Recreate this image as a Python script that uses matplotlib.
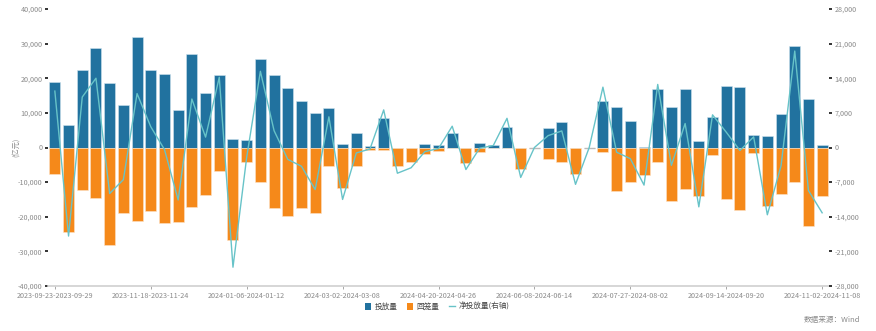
import matplotlib
matplotlib.use("Agg")
import matplotlib.pyplot as plt
from matplotlib.ticker import FuncFormatter, FixedLocator
from matplotlib.patches import Patch
from matplotlib.lines import Line2D

plt.rcParams['font.family'] = ['Noto Sans CJK SC', 'DejaVu Sans']

weeks = [
    "2023-09-23-2023-09-29", "2023-10-07-2023-10-13", "2023-10-14-2023-10-20", "2023-10-21-2023-10-27",
    "2023-10-28-2023-11-03", "2023-11-04-2023-11-10", "2023-11-11-2023-11-17", "2023-11-18-2023-11-24",
    "2023-11-25-2023-12-01", "2023-12-02-2023-12-08", "2023-12-09-2023-12-15", "2023-12-16-2023-12-22",
    "2023-12-23-2023-12-29", "2023-12-30-2024-01-05", "2024-01-06-2024-01-12", "2024-01-13-2024-01-19",
    "2024-01-20-2024-01-26", "2024-01-27-2024-02-02", "2024-02-03-2024-02-09", "2024-02-17-2024-02-23",
    "2024-02-24-2024-03-01", "2024-03-02-2024-03-08", "2024-03-09-2024-03-15", "2024-03-16-2024-03-22",
    "2024-03-23-2024-03-29", "2024-03-30-2024-04-05", "2024-04-06-2024-04-12", "2024-04-13-2024-04-19",
    "2024-04-20-2024-04-26", "2024-04-27-2024-05-03", "2024-05-04-2024-05-10", "2024-05-11-2024-05-17",
    "2024-05-18-2024-05-24", "2024-05-25-2024-05-31", "2024-06-01-2024-06-07", "2024-06-08-2024-06-14",
    "2024-06-15-2024-06-21", "2024-06-22-2024-06-28", "2024-06-29-2024-07-05", "2024-07-06-2024-07-12",
    "2024-07-13-2024-07-19", "2024-07-20-2024-07-26", "2024-07-27-2024-08-02", "2024-08-03-2024-08-09",
    "2024-08-10-2024-08-16", "2024-08-17-2024-08-23", "2024-08-24-2024-08-30", "2024-08-31-2024-09-06",
    "2024-09-07-2024-09-13", "2024-09-14-2024-09-20", "2024-09-21-2024-09-27", "2024-09-28-2024-10-04",
    "2024-10-05-2024-10-11", "2024-10-12-2024-10-18", "2024-10-19-2024-10-25", "2024-10-26-2024-11-01",
    "2024-11-02-2024-11-08",
]

injection = [
    19000, 6450, 22300, 28600, 18750, 12400, 31900, 22300, 21150, 10700,
    27100, 15700, 21000, 2400, 2200, 25500, 20800, 17300, 13500, 10100,
    11500, 1150, 4150, 300, 8400, 0, 0, 1050, 700, 4300,
    0, 1250, 650, 6000, 0, 0, 5700, 7400, 0, 0,
    13400, 11600, 7600, 200, 17000, 11800, 16800, 1900, 8750, 17800,
    17400, 3750, 3300, 9800, 29400, 13900, 700,
]

withdrawal = [
    -7600, -24500, -12200, -14600, -28300, -18900, -21100, -18200, -21700, -21400,
    -17300, -13600, -6800, -26600, -4200, -10100, -17500, -19700, -17400, -18800,
    -5300, -11800, -5300, -600, -800, -5300, -4100, -1800, -900, -100,
    -4500, -1400, -250, -100, -6100, 0, -3400, -4100, -7600, 0,
    -1200, -12700, -9900, -7900, -4300, -15500, -12000, -14100, -2100, -14800,
    -18100, -1600, -17000, -13500, -9900, -22600, -14000,
]

net = [
    11400, -17900, 10200, 14000, -9300, -6500, 10900, 4200, -400, -10600,
    9800, 2100, 14200, -24200, -2000, 15400, 3400, -2400, -3800, -8500,
    6200, -10500, -1100, -300, 7600, -5200, -4100, -850, -200, 4300,
    -4450, -150, 400, 5900, -6050, 0, 2400, 3350, -7450, 0,
    12200, -950, -2250, -7600, 12750, -3600, 4850, -12000, 6600, 3100,
    -600, 2150, -13600, -3700, 19500, -8700, -13200,
]

left_ticks = [-40000, -30000, -20000, -10000, 0, 10000, 20000, 30000, 40000]
right_ticks = [-28000, -21000, -14000, -7000, 0, 7000, 14000, 21000, 28000]

BLUE = "#21729F"
ORANGE = "#F5891A"
TEAL = "#67C3C8"
GRAY_TXT = "#8a8a8a"

W, H = 876, 331
fig = plt.figure(figsize=(W / 100, H / 100), dpi=100)
ax = fig.add_axes([48 / W, 1 - 286 / H, (829 - 48) / W, (286 - 9) / H])
ax2 = ax.twinx()

x = list(range(len(weeks)))
ax.bar(x, injection, width=0.8, color=BLUE, edgecolor="#cfe3ee", linewidth=0.4, zorder=3)
ax.bar(x, withdrawal, width=0.8, color=ORANGE, edgecolor="#fde3c8", linewidth=0.4, zorder=3)
for i in x:
    if injection[i] == 0 and withdrawal[i] == 0:
        ax.hlines(0, i - 0.4, i + 0.4, color="#bbbbbb", linewidth=1.0, zorder=3)
ax2.plot(x, net, color=TEAL, linewidth=1.0, zorder=4)

ax.set_xlim(-0.5, len(weeks) - 0.5)
ax.set_ylim(-40000, 40000)
ax2.set_ylim(-28000, 28000)
ax.yaxis.set_major_locator(FixedLocator(left_ticks))
ax2.yaxis.set_major_locator(FixedLocator(right_ticks))
fmt = FuncFormatter(lambda v, p: f"{v:,.0f}")
ax.yaxis.set_major_formatter(fmt)
ax2.yaxis.set_major_formatter(fmt)

ax.grid(axis="y", color="#dddddd", linestyle=(0, (4, 3)), linewidth=0.7, zorder=0)
ax.set_axisbelow(True)
for t in ax.yaxis.get_major_ticks():
    if t.get_loc() == 0:
        t.gridline.set_visible(False)

label_idx = list(range(0, len(weeks), 7))
ax.set_xticks(label_idx)
ax.set_xticklabels([weeks[i] for i in label_idx], fontsize=5.2, color=GRAY_TXT)
ax.tick_params(axis="x", length=2, width=0.6, color="#999999", pad=2)

ax.tick_params(axis="y", length=2, width=1.4, color="#333333", labelsize=5.2,
               labelcolor=GRAY_TXT, pad=2)
ax2.tick_params(axis="y", length=2, width=1.4, color="#333333", labelsize=5.2,
                labelcolor=GRAY_TXT, pad=2)

for a in (ax, ax2):
    for s in ("top", "left", "right"):
        a.spines[s].set_visible(False)
    a.spines["bottom"].set_color("#d0d0d0")
    a.spines["bottom"].set_linewidth(1.2)
ax2.spines["bottom"].set_visible(False)

fig.text(16 / W, 1 - 147 / H, "(亿元)", rotation=90, fontsize=5.2, color=GRAY_TXT,
         ha="center", va="center")

handles = [
    Patch(facecolor=BLUE, edgecolor="none"),
    Patch(facecolor=ORANGE, edgecolor="none"),
    Line2D([0], [0], color=TEAL, linewidth=1.0),
]
fig.legend(handles, ["投放量", "回笼量", "净投放量(右轴)"], loc="center",
           bbox_to_anchor=(437 / W, 1 - 307 / H), ncol=3, frameon=False,
           fontsize=5.5, handlelength=0.9, handleheight=0.9, handletextpad=0.4,
           columnspacing=1.2, labelcolor="#444444")

fig.text(860 / W, 1 - 320 / H, "数据来源：Wind", fontsize=5.5, color=GRAY_TXT,
         ha="right", va="center")

fig.savefig("out.png", dpi=100, facecolor="white")
